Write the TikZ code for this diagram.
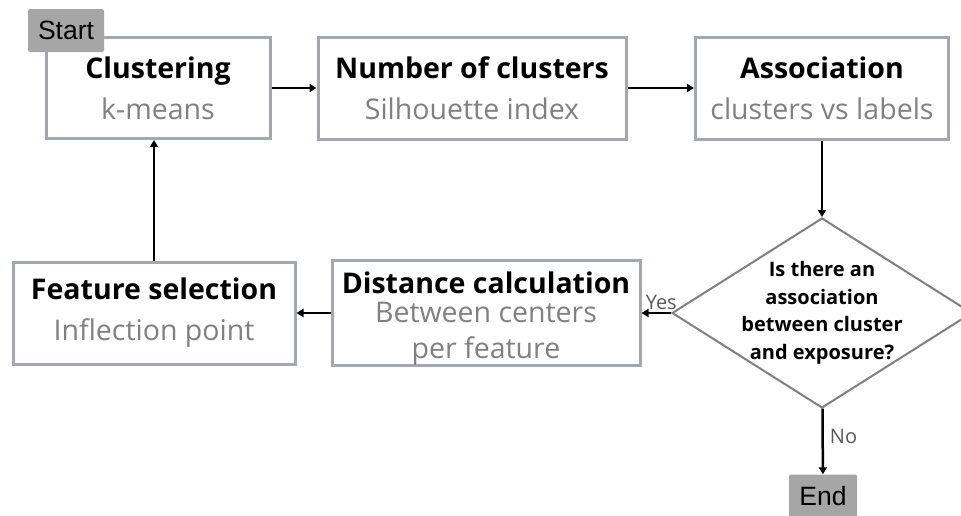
\documentclass[tikz,border=0pt]{standalone}
\usepackage{fontspec}
\setmainfont{Open Sans}
\newfontfamily\tagfont{Liberation Sans}
\usetikzlibrary{shapes.geometric,arrows.meta}
\definecolor{boxline}{HTML}{A0A9B3}
\definecolor{subgray}{HTML}{808080}
\definecolor{tagfill}{HTML}{A6A6A6}
\definecolor{diamline}{HTML}{808080}
\definecolor{answergray}{HTML}{595959}
\newcommand{\subtxt}[1]{{\color{subgray}#1}}

\begin{document}
\begin{tikzpicture}[x=1pt, y=-1pt,
    stepbox/.style = {draw=boxline, line width=3pt, fill=white, align=center,
                inner sep=0pt, font=\fontsize{28.5}{41}\selectfont},
    tag/.style = {fill=tagfill, rounded corners=2pt, inner sep=0pt,
                font=\tagfont\fontsize{26.5}{26.5}\selectfont, minimum height=43pt},
    decision/.style = {diamond, draw=diamline, line width=2pt, fill=white,
                align=center, inner sep=-12pt, font=\bfseries\fontsize{20}{27.5}\selectfont},
    flow/.style = {-{Triangle[length=7pt,width=8pt]}, line width=2.5pt},
    answer/.style = {font=\fontsize{20}{20}\selectfont, text=answergray, inner sep=2pt}
                    ]
    \useasboundingbox (0,0) rectangle (961,515);
    \clip (0,0) rectangle (961,515);
    % top row
    \node[stepbox, minimum width=224pt, minimum height=101pt] (clust) at (158,88)
        {\textbf{Clustering}\\\subtxt{k-means}};
    \node[stepbox, minimum width=308pt, minimum height=102pt] (num) at (472,88)
        {\textbf{Number of clusters}\\\subtxt{Silhouette index}};
    \node[stepbox, minimum width=253pt, minimum height=102pt] (assoc) at (822,88)
        {\textbf{Association}\\\subtxt{clusters vs labels}};
    % bottom row
    \node[stepbox, minimum width=282pt, minimum height=102pt] (feat) at (154,313)
        {\textbf{Feature selection}\\\subtxt{Inflection point}};
    \node[stepbox, minimum width=308pt, minimum height=102pt] (dist) at (486,313)
        {\rule{0pt}{33.5pt}\textbf{Distance calculation}\\[-12pt]\subtxt{Between centers}\\[-5pt]\subtxt{per feature}};
    \node[decision, minimum width=300pt, minimum height=190pt, aspect=1.58] (quest) at (822,313)
        {Is there an\\association\\between cluster\\and exposure?};
    % start and end tags
    \node[tag, minimum width=76pt] (start) at (66,30.5) {Start};
    \node[tag, minimum width=68pt] (finish) at (823,496) {End};
    % connectors
    \draw[flow] (clust) -- (num);
    \draw[flow] (num) -- (assoc);
    \draw[flow] (assoc) -- (quest);
    \draw[flow] (quest) -- node[pos=0, above left, xshift=9pt, answer] {Yes} (dist);
    \draw[flow] (dist) -- (feat);
    \draw[flow] (feat.north) -- (feat.north |- clust.south);
    \draw[flow] (quest) -- node[right, answer, pos=0.42, xshift=4pt] {No} (finish);
\end{tikzpicture}
\end{document}
